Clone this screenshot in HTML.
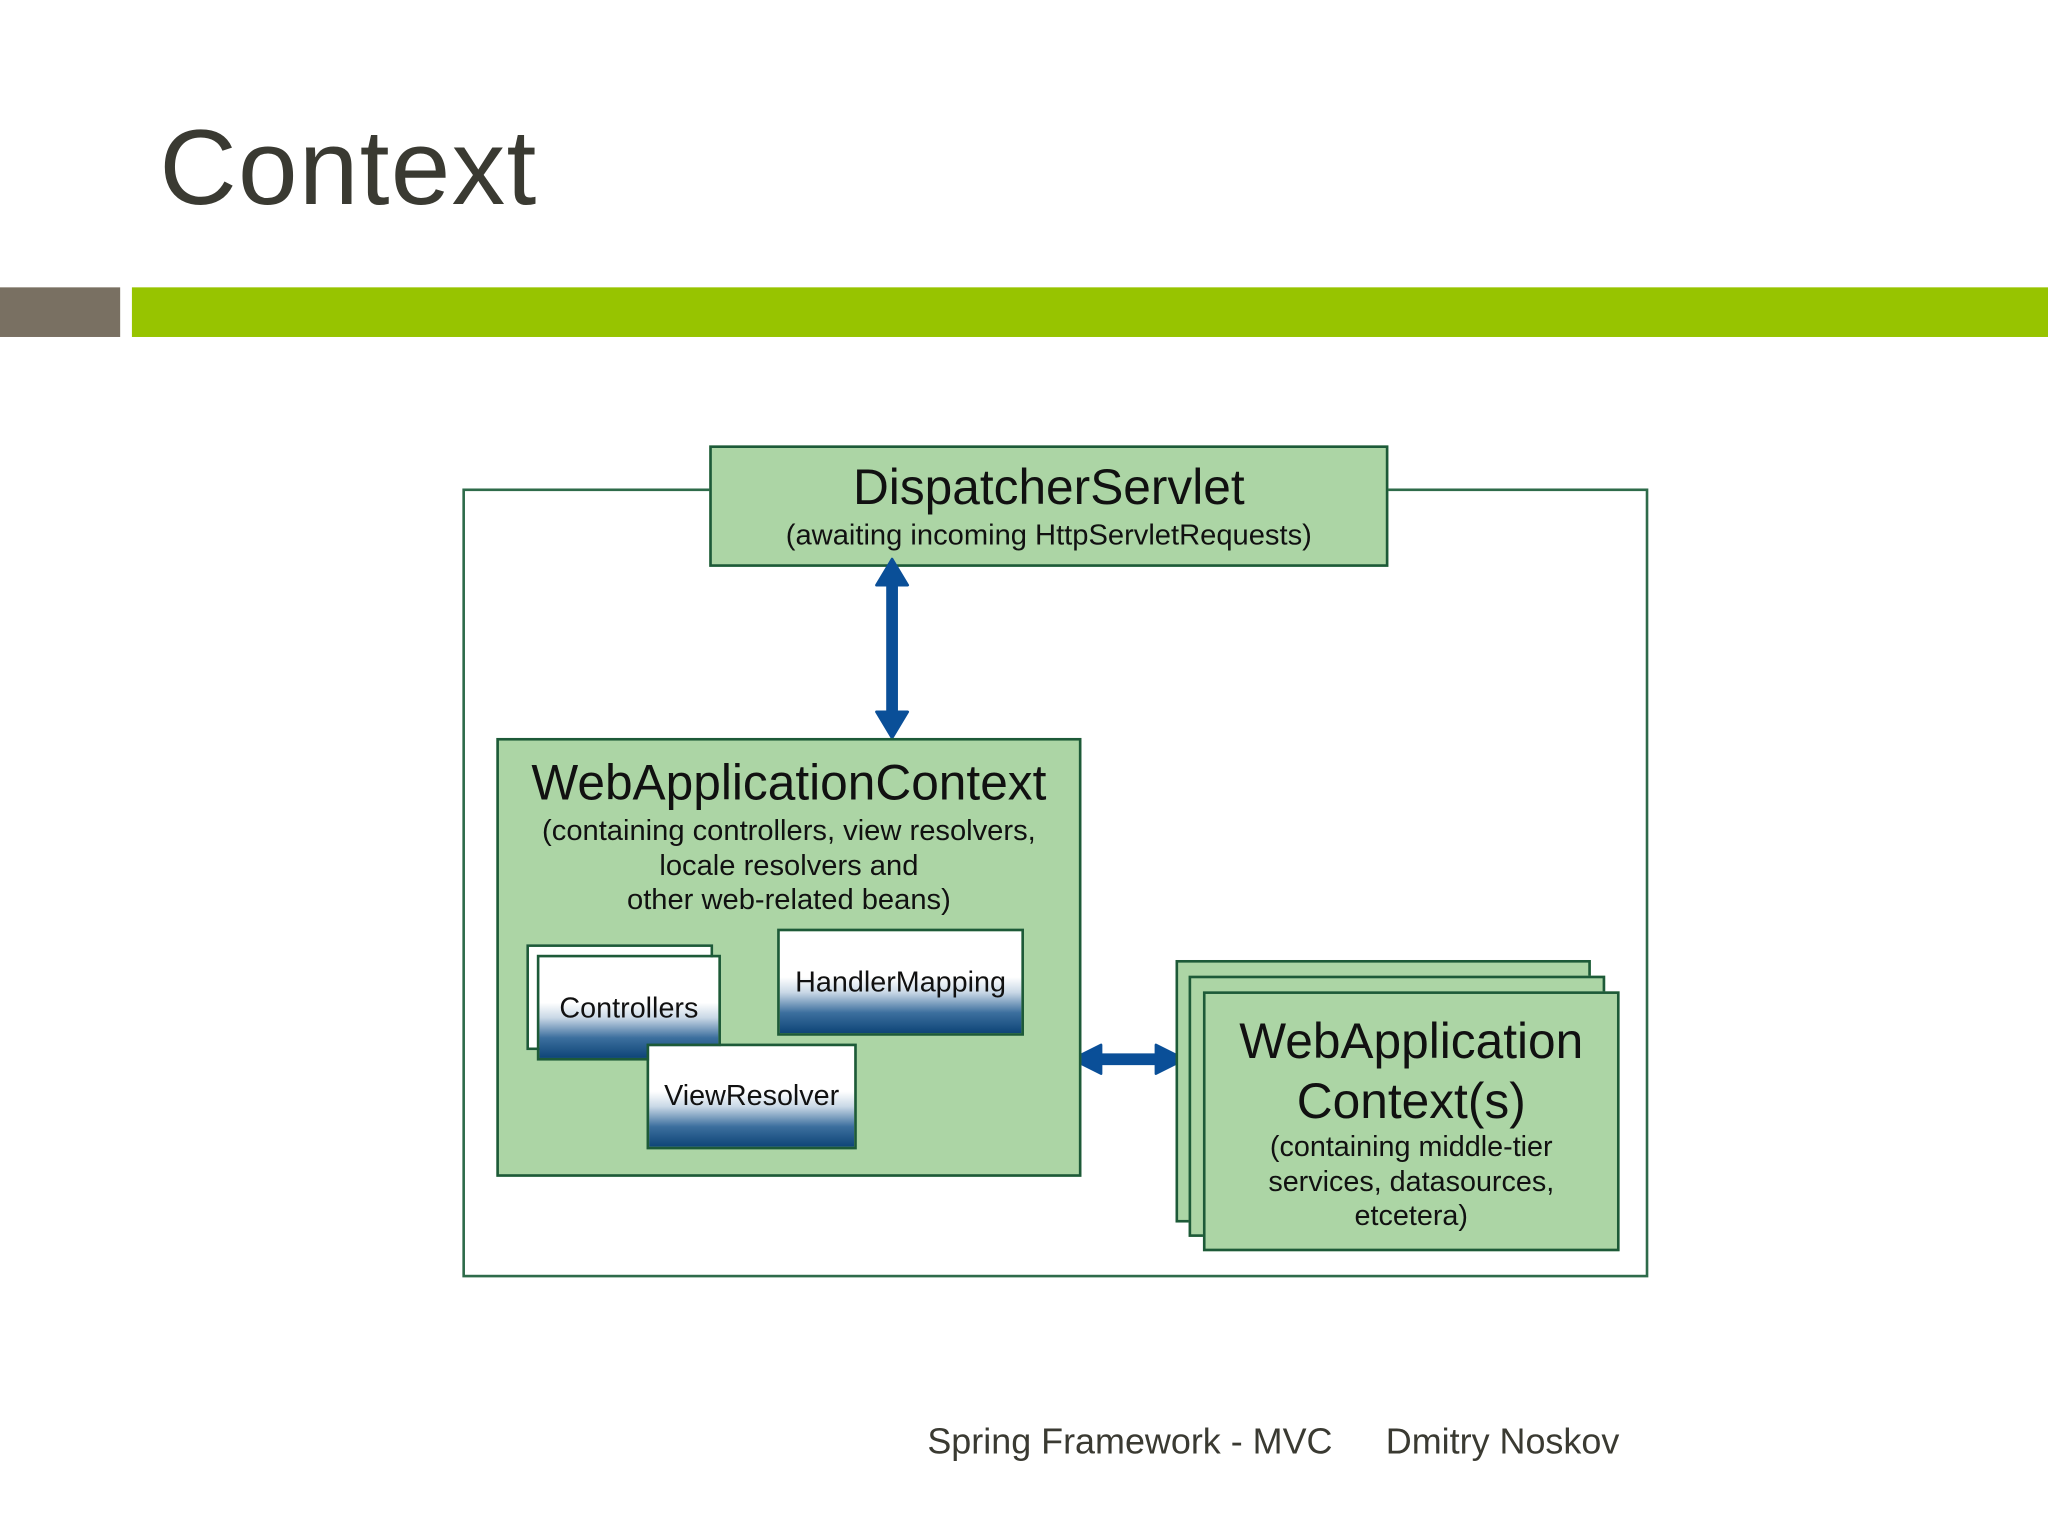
<!DOCTYPE html>
<html><head><meta charset="utf-8"><style>
html,body{margin:0;padding:0;background:#fff;width:2048px;height:1536px;overflow:hidden}
#w{position:absolute;left:0;top:0;width:1568px;height:1176px;transform:scale(1.306122);transform-origin:0 0;font-family:"Liberation Sans",sans-serif}
.a{position:absolute;box-sizing:border-box}
.g{background:#acd5a5;border:2px solid #1d5a38}
.t{position:absolute;left:0;right:0;text-align:center;color:#111;white-space:nowrap}
.sb{border:2px solid #1d5a38;background:linear-gradient(to bottom,#fff 0%,#fff 45%,#c9d8e6 60%,#3c6f9e 80%,#0e4577 100%)}
</style></head><body><div id="w">
<div class="a" style="left:122px;top:82px;font-size:82px;color:#3a3a32;letter-spacing:1px">Context</div>
<div class="a" style="left:0;top:220px;width:92px;height:38px;background:#797062"></div>
<div class="a" style="left:101px;top:220px;width:1467px;height:38px;background:#97c400"></div>

<div class="a" style="left:354px;top:374px;width:908px;height:604px;border:2px solid #2e6b4a;background:#fff"></div>

<div class="a g" style="left:543px;top:341px;width:520px;height:93px">
<div class="t" style="top:10px;font-size:38px">DispatcherServlet</div>
<div class="t" style="top:54px;font-size:22.3px">(awaiting incoming HttpServletRequests)</div>
</div>

<svg class="a" style="left:0;top:0" width="1568" height="1176">
<g fill="#0a4f98" stroke="#0a4f98">
<line x1="683" y1="445" x2="683" y2="550" stroke-width="9"/>
<polygon points="683,428 695,448 671,448" stroke-width="2" stroke-linejoin="round"/>
<polygon points="683,565 695,545 671,545" stroke-width="2" stroke-linejoin="round"/>
<line x1="838" y1="811" x2="892" y2="811" stroke-width="9"/>
<polygon points="821,811 843,800 843,822" stroke-width="2" stroke-linejoin="round"/>
<polygon points="907,811 885,800 885,822" stroke-width="2" stroke-linejoin="round"/>
</g></svg>

<div class="a g" style="left:380px;top:565px;width:448px;height:336px">
<div class="t" style="top:12px;font-size:38px">WebApplicationContext</div>
<div class="t" style="top:56px;font-size:22.3px;line-height:26.5px">(containing controllers, view resolvers,<br>locale resolvers and<br>other web-related beans)</div>
</div>
<div class="a" style="left:403px;top:723px;width:143px;height:81px;border:2px solid #1d5a38;background:#fff"></div>
<div class="a sb" style="left:411px;top:731px;width:141px;height:81px"><div class="t" style="top:26px;font-size:22px">Controllers</div></div>
<div class="a sb" style="left:595px;top:711px;width:189px;height:82px"><div class="t" style="top:26px;font-size:22px">HandlerMapping</div></div>
<div class="a sb" style="left:495px;top:799px;width:161px;height:81px"><div class="t" style="top:25px;font-size:22px">ViewResolver</div></div>

<div class="a g" style="left:900px;top:735px;width:318px;height:201px"></div>
<div class="a g" style="left:910px;top:747px;width:319px;height:200px"></div>
<div class="a g" style="left:921px;top:759px;width:319px;height:199px">
<div class="t" style="top:14px;font-size:38px;line-height:46px">WebApplication<br>Context(s)</div>
<div class="t" style="top:104px;font-size:22px;line-height:26.5px">(containing middle-tier<br>services, datasources,<br>etcetera)</div>
</div>

<div class="a" style="left:710px;top:1088px;font-size:27.5px;color:#3a3a32">Spring Framework - MVC</div>
<div class="a" style="left:1061px;top:1088px;font-size:27.5px;color:#3a3a32">Dmitry Noskov</div>
</div></body></html>
